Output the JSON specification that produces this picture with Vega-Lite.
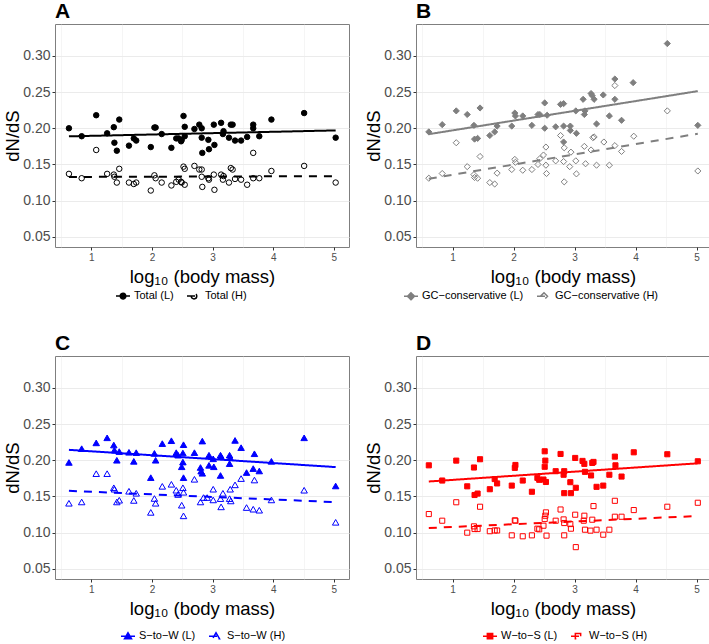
{
"$schema": "https://vega.github.io/schema/vega-lite/v6.json",
"padding": {"left": 3, "top": 0, "right": 0, "bottom": 0},
"datasets": {
"A": [
{"x":0.63,"y":0.200,"s":"Total (L)"},{"x":0.84,"y":0.189,"s":"Total (L)"},{"x":1.08,"y":0.218,"s":"Total (L)"},{"x":1.26,"y":0.193,"s":"Total (L)"},{"x":1.37,"y":0.2015,"s":"Total (L)"},{"x":1.38,"y":0.180,"s":"Total (L)"},{"x":1.42,"y":0.169,"s":"Total (L)"},{"x":1.46,"y":0.212,"s":"Total (L)"},{"x":1.62,"y":0.176,"s":"Total (L)"},{"x":1.70,"y":0.186,"s":"Total (L)"},{"x":1.74,"y":0.183,"s":"Total (L)"},{"x":1.98,"y":0.174,"s":"Total (L)"},{"x":2.04,"y":0.201,"s":"Total (L)"},{"x":2.06,"y":0.201,"s":"Total (L)"},{"x":2.16,"y":0.192,"s":"Total (L)"},{"x":2.32,"y":0.173,"s":"Total (L)"},{"x":2.40,"y":0.186,"s":"Total (L)"},{"x":2.44,"y":0.186,"s":"Total (L)"},{"x":2.48,"y":0.182,"s":"Total (L)"},{"x":2.49,"y":0.184,"s":"Total (L)"},{"x":2.52,"y":0.217,"s":"Total (L)"},{"x":2.54,"y":0.202,"s":"Total (L)"},{"x":2.54,"y":0.189,"s":"Total (L)"},{"x":2.70,"y":0.199,"s":"Total (L)"},{"x":2.78,"y":0.205,"s":"Total (L)"},{"x":2.82,"y":0.200,"s":"Total (L)"},{"x":2.82,"y":0.187,"s":"Total (L)"},{"x":2.83,"y":0.166,"s":"Total (L)"},{"x":2.93,"y":0.184,"s":"Total (L)"},{"x":2.94,"y":0.171,"s":"Total (L)"},{"x":3.02,"y":0.205,"s":"Total (L)"},{"x":3.03,"y":0.177,"s":"Total (L)"},{"x":3.14,"y":0.2075,"s":"Total (L)"},{"x":3.17,"y":0.192,"s":"Total (L)"},{"x":3.18,"y":0.196,"s":"Total (L)"},{"x":3.27,"y":0.187,"s":"Total (L)"},{"x":3.30,"y":0.205,"s":"Total (L)"},{"x":3.33,"y":0.205,"s":"Total (L)"},{"x":3.37,"y":0.183,"s":"Total (L)"},{"x":3.47,"y":0.183,"s":"Total (L)"},{"x":3.57,"y":0.188,"s":"Total (L)"},{"x":3.67,"y":0.205,"s":"Total (L)"},{"x":3.67,"y":0.200,"s":"Total (L)"},{"x":3.77,"y":0.189,"s":"Total (L)"},{"x":3.97,"y":0.212,"s":"Total (L)"},{"x":4.51,"y":0.221,"s":"Total (L)"},{"x":5.03,"y":0.187,"s":"Total (L)"},
{"x":0.63,"y":0.137,"s":"Total (H)"},{"x":0.84,"y":0.131,"s":"Total (H)"},{"x":1.08,"y":0.170,"s":"Total (H)"},{"x":1.26,"y":0.137,"s":"Total (H)"},{"x":1.37,"y":0.136,"s":"Total (H)"},{"x":1.38,"y":0.133,"s":"Total (H)"},{"x":1.42,"y":0.125,"s":"Total (H)"},{"x":1.46,"y":0.144,"s":"Total (H)"},{"x":1.62,"y":0.125,"s":"Total (H)"},{"x":1.70,"y":0.123,"s":"Total (H)"},{"x":1.74,"y":0.125,"s":"Total (H)"},{"x":1.98,"y":0.114,"s":"Total (H)"},{"x":2.04,"y":0.135,"s":"Total (H)"},{"x":2.06,"y":0.131,"s":"Total (H)"},{"x":2.16,"y":0.125,"s":"Total (H)"},{"x":2.32,"y":0.121,"s":"Total (H)"},{"x":2.40,"y":0.126,"s":"Total (H)"},{"x":2.44,"y":0.129,"s":"Total (H)"},{"x":2.48,"y":0.126,"s":"Total (H)"},{"x":2.49,"y":0.125,"s":"Total (H)"},{"x":2.52,"y":0.147,"s":"Total (H)"},{"x":2.54,"y":0.144,"s":"Total (H)"},{"x":2.54,"y":0.122,"s":"Total (H)"},{"x":2.70,"y":0.148,"s":"Total (H)"},{"x":2.78,"y":0.143,"s":"Total (H)"},{"x":2.82,"y":0.143,"s":"Total (H)"},{"x":2.82,"y":0.133,"s":"Total (H)"},{"x":2.83,"y":0.119,"s":"Total (H)"},{"x":2.93,"y":0.131,"s":"Total (H)"},{"x":2.94,"y":0.129,"s":"Total (H)"},{"x":3.02,"y":0.136,"s":"Total (H)"},{"x":3.03,"y":0.115,"s":"Total (H)"},{"x":3.14,"y":0.136,"s":"Total (H)"},{"x":3.17,"y":0.129,"s":"Total (H)"},{"x":3.18,"y":0.134,"s":"Total (H)"},{"x":3.27,"y":0.125,"s":"Total (H)"},{"x":3.30,"y":0.145,"s":"Total (H)"},{"x":3.33,"y":0.143,"s":"Total (H)"},{"x":3.37,"y":0.130,"s":"Total (H)"},{"x":3.47,"y":0.129,"s":"Total (H)"},{"x":3.57,"y":0.122,"s":"Total (H)"},{"x":3.67,"y":0.131,"s":"Total (H)"},{"x":3.67,"y":0.166,"s":"Total (H)"},{"x":3.77,"y":0.131,"s":"Total (H)"},{"x":3.97,"y":0.141,"s":"Total (H)"},{"x":4.51,"y":0.148,"s":"Total (H)"},{"x":5.03,"y":0.125,"s":"Total (H)"}
],
"B": [
{"x":0.61,"y":0.195,"s":"GC−conservative (L)"},{"x":0.83,"y":0.205,"s":"GC−conservative (L)"},{"x":1.06,"y":0.224,"s":"GC−conservative (L)"},{"x":1.24,"y":0.219,"s":"GC−conservative (L)"},{"x":1.35,"y":0.204,"s":"GC−conservative (L)"},{"x":1.36,"y":0.185,"s":"GC−conservative (L)"},{"x":1.41,"y":0.186,"s":"GC−conservative (L)"},{"x":1.45,"y":0.228,"s":"GC−conservative (L)"},{"x":1.61,"y":0.190,"s":"GC−conservative (L)"},{"x":1.69,"y":0.195,"s":"GC−conservative (L)"},{"x":1.73,"y":0.203,"s":"GC−conservative (L)"},{"x":1.97,"y":0.203,"s":"GC−conservative (L)"},{"x":2.02,"y":0.221,"s":"GC−conservative (L)"},{"x":2.03,"y":0.217,"s":"GC−conservative (L)"},{"x":2.15,"y":0.217,"s":"GC−conservative (L)"},{"x":2.30,"y":0.204,"s":"GC−conservative (L)"},{"x":2.40,"y":0.219,"s":"GC−conservative (L)"},{"x":2.43,"y":0.219,"s":"GC−conservative (L)"},{"x":2.51,"y":0.235,"s":"GC−conservative (L)"},{"x":2.51,"y":0.200,"s":"GC−conservative (L)"},{"x":2.55,"y":0.218,"s":"GC−conservative (L)"},{"x":2.69,"y":0.202,"s":"GC−conservative (L)"},{"x":2.77,"y":0.233,"s":"GC−conservative (L)"},{"x":2.82,"y":0.234,"s":"GC−conservative (L)"},{"x":2.82,"y":0.203,"s":"GC−conservative (L)"},{"x":2.82,"y":0.181,"s":"GC−conservative (L)"},{"x":2.93,"y":0.203,"s":"GC−conservative (L)"},{"x":2.93,"y":0.197,"s":"GC−conservative (L)"},{"x":3.03,"y":0.193,"s":"GC−conservative (L)"},{"x":3.02,"y":0.224,"s":"GC−conservative (L)"},{"x":3.14,"y":0.240,"s":"GC−conservative (L)"},{"x":3.16,"y":0.219,"s":"GC−conservative (L)"},{"x":3.17,"y":0.224,"s":"GC−conservative (L)"},{"x":3.27,"y":0.248,"s":"GC−conservative (L)"},{"x":3.29,"y":0.245,"s":"GC−conservative (L)"},{"x":3.32,"y":0.240,"s":"GC−conservative (L)"},{"x":3.36,"y":0.206,"s":"GC−conservative (L)"},{"x":3.47,"y":0.246,"s":"GC−conservative (L)"},{"x":3.57,"y":0.217,"s":"GC−conservative (L)"},{"x":3.66,"y":0.240,"s":"GC−conservative (L)"},{"x":3.66,"y":0.268,"s":"GC−conservative (L)"},{"x":3.77,"y":0.211,"s":"GC−conservative (L)"},{"x":3.96,"y":0.263,"s":"GC−conservative (L)"},{"x":4.52,"y":0.317,"s":"GC−conservative (L)"},{"x":5.02,"y":0.204,"s":"GC−conservative (L)"},
{"x":0.61,"y":0.131,"s":"GC−conservative (H)"},{"x":0.83,"y":0.1375,"s":"GC−conservative (H)"},{"x":1.06,"y":0.180,"s":"GC−conservative (H)"},{"x":1.24,"y":0.147,"s":"GC−conservative (H)"},{"x":1.35,"y":0.136,"s":"GC−conservative (H)"},{"x":1.36,"y":0.132,"s":"GC−conservative (H)"},{"x":1.41,"y":0.131,"s":"GC−conservative (H)"},{"x":1.45,"y":0.161,"s":"GC−conservative (H)"},{"x":1.61,"y":0.125,"s":"GC−conservative (H)"},{"x":1.69,"y":0.123,"s":"GC−conservative (H)"},{"x":1.73,"y":0.138,"s":"GC−conservative (H)"},{"x":1.97,"y":0.143,"s":"GC−conservative (H)"},{"x":2.02,"y":0.157,"s":"GC−conservative (H)"},{"x":2.03,"y":0.153,"s":"GC−conservative (H)"},{"x":2.15,"y":0.142,"s":"GC−conservative (H)"},{"x":2.30,"y":0.143,"s":"GC−conservative (H)"},{"x":2.40,"y":0.150,"s":"GC−conservative (H)"},{"x":2.43,"y":0.158,"s":"GC−conservative (H)"},{"x":2.53,"y":0.174,"s":"GC−conservative (H)"},{"x":2.53,"y":0.149,"s":"GC−conservative (H)"},{"x":2.54,"y":0.1375,"s":"GC−conservative (H)"},{"x":2.49,"y":0.163,"s":"GC−conservative (H)"},{"x":2.69,"y":0.155,"s":"GC−conservative (H)"},{"x":2.77,"y":0.190,"s":"GC−conservative (H)"},{"x":2.83,"y":0.173,"s":"GC−conservative (H)"},{"x":2.82,"y":0.154,"s":"GC−conservative (H)"},{"x":2.83,"y":0.126,"s":"GC−conservative (H)"},{"x":2.92,"y":0.147,"s":"GC−conservative (H)"},{"x":2.94,"y":0.167,"s":"GC−conservative (H)"},{"x":3.02,"y":0.155,"s":"GC−conservative (H)"},{"x":3.03,"y":0.137,"s":"GC−conservative (H)"},{"x":3.16,"y":0.175,"s":"GC−conservative (H)"},{"x":3.18,"y":0.151,"s":"GC−conservative (H)"},{"x":3.27,"y":0.170,"s":"GC−conservative (H)"},{"x":3.30,"y":0.187,"s":"GC−conservative (H)"},{"x":3.32,"y":0.188,"s":"GC−conservative (H)"},{"x":3.36,"y":0.149,"s":"GC−conservative (H)"},{"x":3.48,"y":0.181,"s":"GC−conservative (H)"},{"x":3.57,"y":0.149,"s":"GC−conservative (H)"},{"x":3.66,"y":0.176,"s":"GC−conservative (H)"},{"x":3.66,"y":0.259,"s":"GC−conservative (H)"},{"x":3.77,"y":0.168,"s":"GC−conservative (H)"},{"x":3.97,"y":0.189,"s":"GC−conservative (H)"},{"x":4.52,"y":0.224,"s":"GC−conservative (H)"},{"x":5.02,"y":0.141,"s":"GC−conservative (H)"}
],
"C": [
{"x":0.63,"y":0.197,"s":"S−to−W (L)"},{"x":0.84,"y":0.216,"s":"S−to−W (L)"},{"x":1.08,"y":0.224,"s":"S−to−W (L)"},{"x":1.26,"y":0.231,"s":"S−to−W (L)"},{"x":1.37,"y":0.221,"s":"S−to−W (L)"},{"x":1.38,"y":0.214,"s":"S−to−W (L)"},{"x":1.42,"y":0.200,"s":"S−to−W (L)"},{"x":1.46,"y":0.212,"s":"S−to−W (L)"},{"x":1.62,"y":0.211,"s":"S−to−W (L)"},{"x":1.70,"y":0.1985,"s":"S−to−W (L)"},{"x":1.74,"y":0.2105,"s":"S−to−W (L)"},{"x":1.98,"y":0.176,"s":"S−to−W (L)"},{"x":2.04,"y":0.2095,"s":"S−to−W (L)"},{"x":2.06,"y":0.200,"s":"S−to−W (L)"},{"x":2.17,"y":0.223,"s":"S−to−W (L)"},{"x":2.32,"y":0.227,"s":"S−to−W (L)"},{"x":2.40,"y":0.2105,"s":"S−to−W (L)"},{"x":2.43,"y":0.207,"s":"S−to−W (L)"},{"x":2.51,"y":0.210,"s":"S−to−W (L)"},{"x":2.52,"y":0.2215,"s":"S−to−W (L)"},{"x":2.51,"y":0.1975,"s":"S−to−W (L)"},{"x":2.49,"y":0.191,"s":"S−to−W (L)"},{"x":2.52,"y":0.176,"s":"S−to−W (L)"},{"x":2.70,"y":0.2105,"s":"S−to−W (L)"},{"x":2.80,"y":0.190,"s":"S−to−W (L)"},{"x":2.83,"y":0.2265,"s":"S−to−W (L)"},{"x":2.81,"y":0.185,"s":"S−to−W (L)"},{"x":2.83,"y":0.182,"s":"S−to−W (L)"},{"x":2.94,"y":0.207,"s":"S−to−W (L)"},{"x":2.94,"y":0.193,"s":"S−to−W (L)"},{"x":3.01,"y":0.202,"s":"S−to−W (L)"},{"x":3.02,"y":0.191,"s":"S−to−W (L)"},{"x":3.13,"y":0.207,"s":"S−to−W (L)"},{"x":3.14,"y":0.205,"s":"S−to−W (L)"},{"x":3.13,"y":0.179,"s":"S−to−W (L)"},{"x":3.28,"y":0.207,"s":"S−to−W (L)"},{"x":3.29,"y":0.2036,"s":"S−to−W (L)"},{"x":3.28,"y":0.1953,"s":"S−to−W (L)"},{"x":3.37,"y":0.2274,"s":"S−to−W (L)"},{"x":3.47,"y":0.2174,"s":"S−to−W (L)"},{"x":3.56,"y":0.183,"s":"S−to−W (L)"},{"x":3.67,"y":0.1885,"s":"S−to−W (L)"},{"x":3.69,"y":0.209,"s":"S−to−W (L)"},{"x":3.77,"y":0.1852,"s":"S−to−W (L)"},{"x":3.97,"y":0.1985,"s":"S−to−W (L)"},{"x":4.51,"y":0.231,"s":"S−to−W (L)"},{"x":5.03,"y":0.1645,"s":"S−to−W (L)"},
{"x":0.63,"y":0.1406,"s":"S−to−W (H)"},{"x":0.84,"y":0.1424,"s":"S−to−W (H)"},{"x":1.08,"y":0.1815,"s":"S−to−W (H)"},{"x":1.26,"y":0.1815,"s":"S−to−W (H)"},{"x":1.37,"y":0.162,"s":"S−to−W (H)"},{"x":1.38,"y":0.160,"s":"S−to−W (H)"},{"x":1.42,"y":0.1424,"s":"S−to−W (H)"},{"x":1.46,"y":0.1448,"s":"S−to−W (H)"},{"x":1.62,"y":0.1572,"s":"S−to−W (H)"},{"x":1.70,"y":0.1445,"s":"S−to−W (H)"},{"x":1.74,"y":0.1544,"s":"S−to−W (H)"},{"x":1.98,"y":0.128,"s":"S−to−W (H)"},{"x":2.04,"y":0.1472,"s":"S−to−W (H)"},{"x":2.06,"y":0.1406,"s":"S−to−W (H)"},{"x":2.17,"y":0.164,"s":"S−to−W (H)"},{"x":2.32,"y":0.1668,"s":"S−to−W (H)"},{"x":2.40,"y":0.1586,"s":"S−to−W (H)"},{"x":2.43,"y":0.1527,"s":"S−to−W (H)"},{"x":2.51,"y":0.162,"s":"S−to−W (H)"},{"x":2.52,"y":0.1558,"s":"S−to−W (H)"},{"x":2.49,"y":0.1379,"s":"S−to−W (H)"},{"x":2.52,"y":0.1232,"s":"S−to−W (H)"},{"x":2.70,"y":0.1737,"s":"S−to−W (H)"},{"x":2.80,"y":0.1424,"s":"S−to−W (H)"},{"x":2.85,"y":0.1485,"s":"S−to−W (H)"},{"x":2.91,"y":0.1485,"s":"S−to−W (H)"},{"x":3.01,"y":0.160,"s":"S−to−W (H)"},{"x":3.01,"y":0.1452,"s":"S−to−W (H)"},{"x":3.13,"y":0.147,"s":"S−to−W (H)"},{"x":3.14,"y":0.1356,"s":"S−to−W (H)"},{"x":3.17,"y":0.1544,"s":"S−to−W (H)"},{"x":3.28,"y":0.147,"s":"S−to−W (H)"},{"x":3.29,"y":0.160,"s":"S−to−W (H)"},{"x":3.30,"y":0.1438,"s":"S−to−W (H)"},{"x":3.37,"y":0.166,"s":"S−to−W (H)"},{"x":3.47,"y":0.1747,"s":"S−to−W (H)"},{"x":3.56,"y":0.1347,"s":"S−to−W (H)"},{"x":3.67,"y":0.1324,"s":"S−to−W (H)"},{"x":3.69,"y":0.1727,"s":"S−to−W (H)"},{"x":3.77,"y":0.131,"s":"S−to−W (H)"},{"x":3.97,"y":0.1452,"s":"S−to−W (H)"},{"x":4.51,"y":0.1586,"s":"S−to−W (H)"},{"x":5.03,"y":0.1143,"s":"S−to−W (H)"}
],
"D": [
{"x":0.61,"y":0.193,"s":"W−to−S (L)"},{"x":0.83,"y":0.172,"s":"W−to−S (L)"},{"x":1.06,"y":0.1995,"s":"W−to−S (L)"},{"x":1.24,"y":0.164,"s":"W−to−S (L)"},{"x":1.35,"y":0.190,"s":"W−to−S (L)"},{"x":1.36,"y":0.152,"s":"W−to−S (L)"},{"x":1.41,"y":0.154,"s":"W−to−S (L)"},{"x":1.45,"y":0.2014,"s":"W−to−S (L)"},{"x":1.61,"y":0.160,"s":"W−to−S (L)"},{"x":1.69,"y":0.174,"s":"W−to−S (L)"},{"x":1.73,"y":0.168,"s":"W−to−S (L)"},{"x":1.97,"y":0.165,"s":"W−to−S (L)"},{"x":2.02,"y":0.1895,"s":"W−to−S (L)"},{"x":2.03,"y":0.1935,"s":"W−to−S (L)"},{"x":2.15,"y":0.172,"s":"W−to−S (L)"},{"x":2.30,"y":0.1565,"s":"W−to−S (L)"},{"x":2.39,"y":0.1757,"s":"W−to−S (L)"},{"x":2.42,"y":0.173,"s":"W−to−S (L)"},{"x":2.49,"y":0.1734,"s":"W−to−S (L)"},{"x":2.51,"y":0.191,"s":"W−to−S (L)"},{"x":2.52,"y":0.1995,"s":"W−to−S (L)"},{"x":2.51,"y":0.2124,"s":"W−to−S (L)"},{"x":2.53,"y":0.170,"s":"W−to−S (L)"},{"x":2.69,"y":0.1849,"s":"W−to−S (L)"},{"x":2.77,"y":0.2087,"s":"W−to−S (L)"},{"x":2.82,"y":0.180,"s":"W−to−S (L)"},{"x":2.83,"y":0.1849,"s":"W−to−S (L)"},{"x":2.83,"y":0.1546,"s":"W−to−S (L)"},{"x":2.93,"y":0.1697,"s":"W−to−S (L)"},{"x":2.94,"y":0.1546,"s":"W−to−S (L)"},{"x":3.01,"y":0.2032,"s":"W−to−S (L)"},{"x":3.02,"y":0.162,"s":"W−to−S (L)"},{"x":3.13,"y":0.1991,"s":"W−to−S (L)"},{"x":3.16,"y":0.195,"s":"W−to−S (L)"},{"x":3.17,"y":0.184,"s":"W−to−S (L)"},{"x":3.27,"y":0.179,"s":"W−to−S (L)"},{"x":3.29,"y":0.1963,"s":"W−to−S (L)"},{"x":3.31,"y":0.1977,"s":"W−to−S (L)"},{"x":3.36,"y":0.1633,"s":"W−to−S (L)"},{"x":3.47,"y":0.165,"s":"W−to−S (L)"},{"x":3.57,"y":0.180,"s":"W−to−S (L)"},{"x":3.66,"y":0.205,"s":"W−to−S (L)"},{"x":3.67,"y":0.193,"s":"W−to−S (L)"},{"x":3.77,"y":0.1775,"s":"W−to−S (L)"},{"x":3.97,"y":0.211,"s":"W−to−S (L)"},{"x":4.52,"y":0.2083,"s":"W−to−S (L)"},{"x":5.02,"y":0.1986,"s":"W−to−S (L)"},
{"x":0.61,"y":0.1257,"s":"W−to−S (H)"},{"x":0.83,"y":0.1165,"s":"W−to−S (H)"},{"x":1.06,"y":0.142,"s":"W−to−S (H)"},{"x":1.24,"y":0.100,"s":"W−to−S (H)"},{"x":1.35,"y":0.1087,"s":"W−to−S (H)"},{"x":1.36,"y":0.105,"s":"W−to−S (H)"},{"x":1.41,"y":0.105,"s":"W−to−S (H)"},{"x":1.45,"y":0.1358,"s":"W−to−S (H)"},{"x":1.61,"y":0.102,"s":"W−to−S (H)"},{"x":1.69,"y":0.103,"s":"W−to−S (H)"},{"x":1.73,"y":0.103,"s":"W−to−S (H)"},{"x":1.97,"y":0.0963,"s":"W−to−S (H)"},{"x":2.02,"y":0.117,"s":"W−to−S (H)"},{"x":2.03,"y":0.1165,"s":"W−to−S (H)"},{"x":2.15,"y":0.095,"s":"W−to−S (H)"},{"x":2.30,"y":0.0963,"s":"W−to−S (H)"},{"x":2.39,"y":0.1055,"s":"W−to−S (H)"},{"x":2.42,"y":0.1046,"s":"W−to−S (H)"},{"x":2.49,"y":0.1096,"s":"W−to−S (H)"},{"x":2.51,"y":0.1188,"s":"W−to−S (H)"},{"x":2.52,"y":0.1234,"s":"W−to−S (H)"},{"x":2.53,"y":0.128,"s":"W−to−S (H)"},{"x":2.54,"y":0.0959,"s":"W−to−S (H)"},{"x":2.69,"y":0.1165,"s":"W−to−S (H)"},{"x":2.77,"y":0.132,"s":"W−to−S (H)"},{"x":2.82,"y":0.1183,"s":"W−to−S (H)"},{"x":2.83,"y":0.1133,"s":"W−to−S (H)"},{"x":2.83,"y":0.0963,"s":"W−to−S (H)"},{"x":2.93,"y":0.1119,"s":"W−to−S (H)"},{"x":2.94,"y":0.1055,"s":"W−to−S (H)"},{"x":3.01,"y":0.1248,"s":"W−to−S (H)"},{"x":3.02,"y":0.080,"s":"W−to−S (H)"},{"x":3.15,"y":0.1165,"s":"W−to−S (H)"},{"x":3.16,"y":0.1234,"s":"W−to−S (H)"},{"x":3.17,"y":0.1041,"s":"W−to−S (H)"},{"x":3.26,"y":0.1028,"s":"W−to−S (H)"},{"x":3.29,"y":0.1179,"s":"W−to−S (H)"},{"x":3.31,"y":0.1367,"s":"W−to−S (H)"},{"x":3.36,"y":0.1041,"s":"W−to−S (H)"},{"x":3.47,"y":0.0972,"s":"W−to−S (H)"},{"x":3.57,"y":0.1041,"s":"W−to−S (H)"},{"x":3.66,"y":0.144,"s":"W−to−S (H)"},{"x":3.66,"y":0.122,"s":"W−to−S (H)"},{"x":3.77,"y":0.122,"s":"W−to−S (H)"},{"x":3.97,"y":0.1312,"s":"W−to−S (H)"},{"x":4.52,"y":0.1358,"s":"W−to−S (H)"},{"x":5.02,"y":0.1413,"s":"W−to−S (H)"}
]
},
"vconcat": [
{"hconcat": [
{"width": 294, "height": 223, "data": {"name": "A"},
 "title": {"text": "A", "anchor": "start", "frame": "group", "fontSize": 21, "fontWeight": "bold", "offset": 2, "color": "#000000"},
 "resolve": {"axis": {"x": "independent"}},
 "layer": [
  {"mark": {"type": "point", "opacity": 0},
   "encoding": {"x": {"field": "x", "type": "quantitative", "scale": {"domain": [0.4, 5.25], "nice": false, "zero": false}, "axis": {"orient": "top", "title": null, "labels": false, "ticks": false, "domain": false, "grid": true, "gridWidth": 0.5, "values": [0.5,1.5,2.5,3.5,4.5]}}}},
  {"mark": {"type": "point", "shape": "circle", "size": 30, "stroke": "#000000", "strokeWidth": 1, "opacity": 1},
   "encoding": {
    "x": {"field": "x", "type": "quantitative", "axis": {"title": "log₁₀ (body mass)", "values": [1,2,3,4,5], "format": "d", "labelFlush": false, "gridWidth": 1}},
    "y": {"field": "y", "type": "quantitative", "scale": {"domain": [0.036, 0.344], "nice": false, "zero": false},
      "axis": {"title": "dN/dS", "values": [0.05,0.075,0.1,0.125,0.15,0.175,0.2,0.225,0.25,0.275,0.3,0.325], "labelOverlap": false, "labelExpr": "abs(datum.value*20 - round(datum.value*20)) > 0.01 ? '' : format(datum.value, '.2f')", "tickWidth": {"condition": {"test": "abs(datum.value*20 - round(datum.value*20)) > 0.01", "value": 0}, "value": 1}, "gridWidth": {"condition": {"test": "abs(datum.value*20 - round(datum.value*20)) > 0.01", "value": 0.5}, "value": 1}}},
    "fill": {"field": "s", "type": "nominal", "scale": {"domain": ["Total (L)", "Total (H)"], "range": ["#000000", "transparent"]},
      "legend": {"title": null, "orient": "none", "direction": "horizontal", "legendX": 60, "legendY": 264, "symbolSize": 196, "symbolType": "M-1,0L1,0M0.4,0A0.4,0.4,0,1,1,-0.4,0A0.4,0.4,0,1,1,0.4,0Z", "symbolStrokeColor": "#000000"}}
   }},
  {"transform": [{"regression": "y", "on": "x", "groupby": ["s"]}],
   "mark": {"type": "line", "color": "#000000", "strokeWidth": 2},
   "encoding": {
    "x": {"field": "x", "type": "quantitative", "axis": null},
    "y": {"field": "y", "type": "quantitative"},
    "strokeDash": {"field": "s", "type": "nominal", "scale": {"domain": ["Total (L)", "Total (H)"], "range": [[1,0],[8,7]]}, "legend": null}
   }}
 ]},
{"width": 294, "height": 223, "data": {"name": "B"},
 "title": {"text": "B", "anchor": "start", "frame": "group", "fontSize": 21, "fontWeight": "bold", "offset": 2, "color": "#000000"},
 "resolve": {"axis": {"x": "independent"}},
 "layer": [
  {"mark": {"type": "point", "opacity": 0},
   "encoding": {"x": {"field": "x", "type": "quantitative", "scale": {"domain": [0.4, 5.22], "nice": false, "zero": false}, "axis": {"orient": "top", "title": null, "labels": false, "ticks": false, "domain": false, "grid": true, "gridWidth": 0.5, "values": [0.5,1.5,2.5,3.5,4.5]}}}},
  {"mark": {"type": "point", "shape": "diamond", "size": 38, "stroke": "#7F7F7F", "strokeWidth": 1, "opacity": 1},
   "encoding": {
    "x": {"field": "x", "type": "quantitative", "axis": {"title": "log₁₀ (body mass)", "values": [1,2,3,4,5], "format": "d", "labelFlush": false, "gridWidth": 1}},
    "y": {"field": "y", "type": "quantitative", "scale": {"domain": [0.036, 0.344], "nice": false, "zero": false},
      "axis": {"title": "dN/dS", "values": [0.05,0.075,0.1,0.125,0.15,0.175,0.2,0.225,0.25,0.275,0.3,0.325], "labelOverlap": false, "labelExpr": "abs(datum.value*20 - round(datum.value*20)) > 0.01 ? '' : format(datum.value, '.2f')", "tickWidth": {"condition": {"test": "abs(datum.value*20 - round(datum.value*20)) > 0.01", "value": 0}, "value": 1}, "gridWidth": {"condition": {"test": "abs(datum.value*20 - round(datum.value*20)) > 0.01", "value": 0.5}, "value": 1}}},
    "fill": {"field": "s", "type": "nominal", "scale": {"domain": ["GC−conservative (L)", "GC−conservative (H)"], "range": ["#7F7F7F", "transparent"]},
      "legend": {"title": null, "orient": "none", "direction": "horizontal", "legendX": -13, "legendY": 264, "symbolSize": 196, "symbolType": "M-1,0L1,0M0,-0.5L0.5,0L0,0.5L-0.5,0Z", "symbolStrokeColor": "#7F7F7F"}}
   }},
  {"transform": [{"regression": "y", "on": "x", "groupby": ["s"]}],
   "mark": {"type": "line", "color": "#7F7F7F", "strokeWidth": 2},
   "encoding": {
    "x": {"field": "x", "type": "quantitative", "axis": null},
    "y": {"field": "y", "type": "quantitative"},
    "strokeDash": {"field": "s", "type": "nominal", "scale": {"domain": ["GC−conservative (L)", "GC−conservative (H)"], "range": [[1,0],[8,7]]}, "legend": null}
   }}
 ]}
], "spacing": 14, "resolve": {"scale": {"fill": "independent", "strokeDash": "independent"}, "legend": {"fill": "independent"}}},
{"hconcat": [
{"width": 294, "height": 223, "data": {"name": "C"},
 "title": {"text": "C", "anchor": "start", "frame": "group", "fontSize": 21, "fontWeight": "bold", "offset": 2, "color": "#000000"},
 "resolve": {"axis": {"x": "independent"}},
 "layer": [
  {"mark": {"type": "point", "opacity": 0},
   "encoding": {"x": {"field": "x", "type": "quantitative", "scale": {"domain": [0.4, 5.25], "nice": false, "zero": false}, "axis": {"orient": "top", "title": null, "labels": false, "ticks": false, "domain": false, "grid": true, "gridWidth": 0.5, "values": [0.5,1.5,2.5,3.5,4.5]}}}},
  {"mark": {"type": "point", "shape": "triangle-up", "size": 42, "stroke": "#0000FF", "strokeWidth": 1, "opacity": 1},
   "encoding": {
    "x": {"field": "x", "type": "quantitative", "axis": {"title": "log₁₀ (body mass)", "values": [1,2,3,4,5], "format": "d", "labelFlush": false, "gridWidth": 1}},
    "y": {"field": "y", "type": "quantitative", "scale": {"domain": [0.036, 0.344], "nice": false, "zero": false},
      "axis": {"title": "dN/dS", "values": [0.05,0.075,0.1,0.125,0.15,0.175,0.2,0.225,0.25,0.275,0.3,0.325], "labelOverlap": false, "labelExpr": "abs(datum.value*20 - round(datum.value*20)) > 0.01 ? '' : format(datum.value, '.2f')", "tickWidth": {"condition": {"test": "abs(datum.value*20 - round(datum.value*20)) > 0.01", "value": 0}, "value": 1}, "gridWidth": {"condition": {"test": "abs(datum.value*20 - round(datum.value*20)) > 0.01", "value": 0.5}, "value": 1}}},
    "fill": {"field": "s", "type": "nominal", "scale": {"domain": ["S−to−W (L)", "S−to−W (H)"], "range": ["#0000FF", "transparent"]},
      "legend": {"title": null, "orient": "none", "direction": "horizontal", "legendX": 65, "legendY": 272, "symbolSize": 196, "symbolType": "M-1,0L1,0M0,-0.5L0.5,0.35L-0.5,0.35Z", "symbolStrokeColor": "#0000FF"}}
   }},
  {"transform": [{"regression": "y", "on": "x", "groupby": ["s"]}],
   "mark": {"type": "line", "color": "#0000FF", "strokeWidth": 2},
   "encoding": {
    "x": {"field": "x", "type": "quantitative", "axis": null},
    "y": {"field": "y", "type": "quantitative"},
    "strokeDash": {"field": "s", "type": "nominal", "scale": {"domain": ["S−to−W (L)", "S−to−W (H)"], "range": [[1,0],[8,7]]}, "legend": null}
   }}
 ]},
{"width": 294, "height": 223, "data": {"name": "D"},
 "title": {"text": "D", "anchor": "start", "frame": "group", "fontSize": 21, "fontWeight": "bold", "offset": 2, "color": "#000000"},
 "resolve": {"axis": {"x": "independent"}},
 "layer": [
  {"mark": {"type": "point", "opacity": 0},
   "encoding": {"x": {"field": "x", "type": "quantitative", "scale": {"domain": [0.4, 5.22], "nice": false, "zero": false}, "axis": {"orient": "top", "title": null, "labels": false, "ticks": false, "domain": false, "grid": true, "gridWidth": 0.5, "values": [0.5,1.5,2.5,3.5,4.5]}}}},
  {"mark": {"type": "point", "shape": "square", "size": 26, "stroke": "#FF0000", "strokeWidth": 1, "opacity": 1},
   "encoding": {
    "x": {"field": "x", "type": "quantitative", "axis": {"title": "log₁₀ (body mass)", "values": [1,2,3,4,5], "format": "d", "labelFlush": false, "gridWidth": 1}},
    "y": {"field": "y", "type": "quantitative", "scale": {"domain": [0.036, 0.344], "nice": false, "zero": false},
      "axis": {"title": "dN/dS", "values": [0.05,0.075,0.1,0.125,0.15,0.175,0.2,0.225,0.25,0.275,0.3,0.325], "labelOverlap": false, "labelExpr": "abs(datum.value*20 - round(datum.value*20)) > 0.01 ? '' : format(datum.value, '.2f')", "tickWidth": {"condition": {"test": "abs(datum.value*20 - round(datum.value*20)) > 0.01", "value": 0}, "value": 1}, "gridWidth": {"condition": {"test": "abs(datum.value*20 - round(datum.value*20)) > 0.01", "value": 0.5}, "value": 1}}},
    "fill": {"field": "s", "type": "nominal", "scale": {"domain": ["W−to−S (L)", "W−to−S (H)"], "range": ["#FF0000", "transparent"]},
      "legend": {"title": null, "orient": "none", "direction": "horizontal", "legendX": 66, "legendY": 272, "symbolSize": 196, "symbolType": "M-1,0L1,0M-0.38,-0.38L0.38,-0.38L0.38,0.38L-0.38,0.38Z", "symbolStrokeColor": "#FF0000"}}
   }},
  {"transform": [{"regression": "y", "on": "x", "groupby": ["s"]}],
   "mark": {"type": "line", "color": "#FF0000", "strokeWidth": 2},
   "encoding": {
    "x": {"field": "x", "type": "quantitative", "axis": null},
    "y": {"field": "y", "type": "quantitative"},
    "strokeDash": {"field": "s", "type": "nominal", "scale": {"domain": ["W−to−S (L)", "W−to−S (H)"], "range": [[1,0],[8,7]]}, "legend": null}
   }}
 ]}
], "spacing": 14, "resolve": {"scale": {"fill": "independent", "strokeDash": "independent"}, "legend": {"fill": "independent"}}}
],
"spacing": 28,
"resolve": {"scale": {"fill": "independent", "strokeDash": "independent"}, "legend": {"fill": "independent"}},
"config": {
 "font": "Liberation Sans",
 "view": {"stroke": "#7F7F7F", "strokeWidth": 1},
 "axis": {"domain": false, "gridColor": "#EBEBEB", "tickColor": "#333333", "tickSize": 3, "labelColor": "#4D4D4D", "titleColor": "#000000", "titleFontWeight": "normal", "titleFontSize": 18.5},
 "axisX": {"labelFontSize": 10, "labelPadding": 2, "titlePadding": 5},
 "axisY": {"labelFontSize": 14, "labelPadding": 2, "titlePadding": 0},
 "legend": {"labelFontSize": 11, "labelColor": "#000000", "symbolStrokeWidth": 1.5, "columnPadding": 10, "labelOffset": 3, "padding": 0}
}
}
